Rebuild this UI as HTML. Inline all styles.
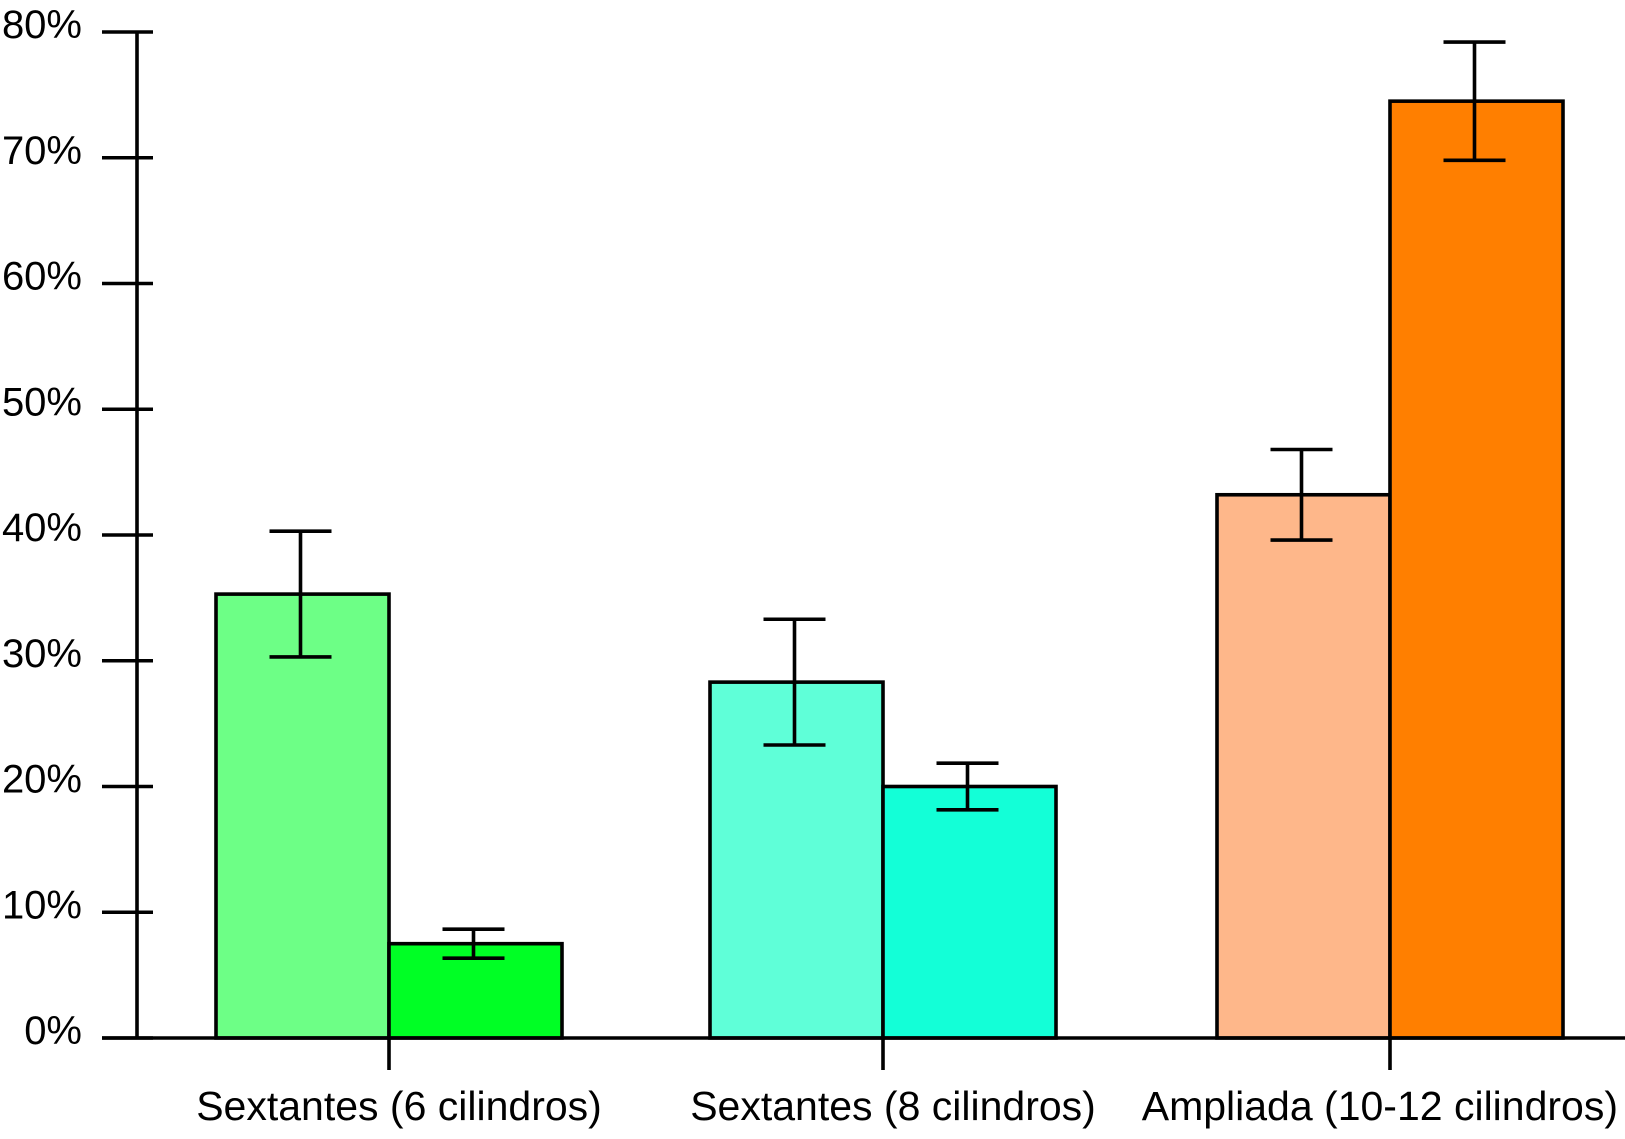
<!DOCTYPE html>
<html><head><meta charset="utf-8"><style>html,body{margin:0;padding:0;background:#fff}svg{display:block}text{font-family:"Liberation Sans",Arial,sans-serif;fill:#000}</style></head>
<body>
<svg id="chart" width="1625" height="1139" viewBox="0 0 1625 1139" xmlns="http://www.w3.org/2000/svg"></svg>
<script>
const categories = ["Sextantes (6 cilindros)", "Sextantes (8 cilindros)", "Ampliada (10-12 cilindros)"];
const seriesA = [35.3, 28.3, 43.2];
const seriesB = [7.5, 20.0, 74.5];
const errA = [5.0, 5.0, 3.6];
const errB = [1.15, 1.85, 4.7];
const yTicks = [0, 10, 20, 30, 40, 50, 60, 70, 80];
const colorsA = ["#6dff86", "#5fffd8", "#feb78a"];
const colorsB = ["#00ff25", "#13ffd7", "#ff7f00"];

const svg = document.getElementById('chart');
const NS = 'http://www.w3.org/2000/svg';
const y0 = 1038, yTop = 32, yMax = 80;
function y(v){ return y0 - (v / yMax) * (y0 - yTop); }
const groupStart = [216, 710, 1217];
const barW = 173;
const SW = 3.6;
function mk(tag, attrs){ const e = document.createElementNS(NS, tag); for (const k in attrs) e.setAttribute(k, attrs[k]); svg.appendChild(e); return e; }

categories.forEach((c, i) => {
  const x = groupStart[i];
  const a = mk('rect', {x: x, y: y(seriesA[i]), width: barW, height: y0 - y(seriesA[i]), fill: colorsA[i], stroke: '#000', 'stroke-width': SW});
  
  
  const b = mk('rect', {x: x + barW, y: y(seriesB[i]), width: barW, height: y0 - y(seriesB[i]), fill: colorsB[i], stroke: '#000', 'stroke-width': SW});
  
  
  [[x + barW / 2 - 2, seriesA[i], errA[i], 'a'], [x + barW * 1.5 - 2, seriesB[i], errB[i], 'b']].forEach(([cx, v, e, s]) => {
    const g = document.createElementNS(NS, 'g');
    
    
    svg.appendChild(g);
    const d = `M${cx},${y(v + e)}V${y(v - e)}M${cx - 31},${y(v + e)}H${cx + 31}M${cx - 31},${y(v - e)}H${cx + 31}`;
    const p = document.createElementNS(NS, 'path');
    p.setAttribute('d', d); p.setAttribute('stroke', '#000'); p.setAttribute('stroke-width', SW); p.setAttribute('fill', 'none');
    g.appendChild(p);
  });
  const t = mk('line', {x1: x + barW, x2: x + barW, y1: y0, y2: 1070, stroke: '#000', 'stroke-width': SW});
  
  
  const lbl = mk('text', {x: 0, y: 1120, 'font-size': 41, 'text-anchor': 'middle'});
  
  
  lbl.textContent = c;
  const w = lbl.getComputedTextLength();
  lbl.setAttribute('x', Math.min(x + barW + 10, 1618 - w / 2));
});

const ya = mk('line', {x1: 137, x2: 137, y1: yTop, y2: y0, stroke: '#000', 'stroke-width': SW});


const xa = mk('line', {x1: 102, x2: 1625, y1: y0, y2: y0, stroke: '#000', 'stroke-width': SW});


yTicks.forEach(v => {
  const l = mk('line', {x1: 102, x2: 153, y1: y(v), y2: y(v), stroke: '#000', 'stroke-width': SW});
  
  
  const t = mk('text', {x: 82, y: y(v) + 6, 'font-size': 40, 'text-anchor': 'end'});
  
  
  t.textContent = v + '%';
});
</script>
</body></html>
